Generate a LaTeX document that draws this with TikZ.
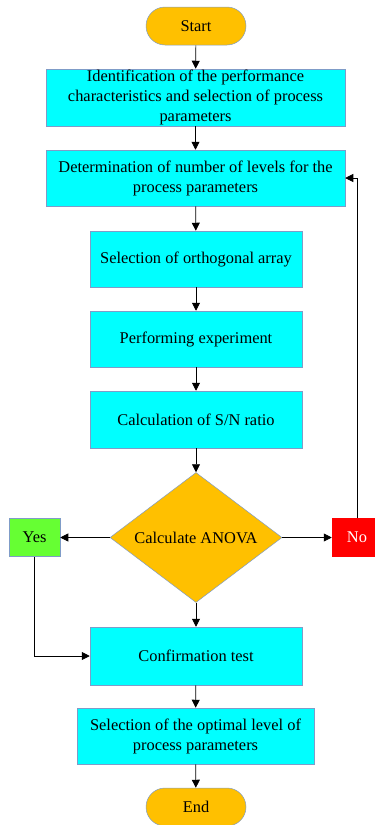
\documentclass[tikz,border=0pt]{standalone}
\usepackage{fontspec}
\setmainfont{Liberation Serif}
\usepackage{tikz}
\usetikzlibrary{arrows.meta,shapes.geometric}
\definecolor{boxcyan}{HTML}{00FFFF}
\definecolor{termorange}{HTML}{FFC000}
\definecolor{yesgreen}{HTML}{66FF33}
\definecolor{edgeblue}{HTML}{7F9CC8}
\tikzset{
  procbox/.style={draw=edgeblue,line width=0.5pt,fill=boxcyan,inner sep=0pt,align=center,minimum height=56pt},
  termbox/.style={draw=edgeblue,line width=0.5pt,fill=termorange,rounded corners=19pt,minimum width=100pt,minimum height=38pt},
  decbox/.style={draw=edgeblue,line width=0.5pt,fill=termorange,diamond,aspect=1.32,inner sep=0pt,minimum width=172pt,minimum height=130pt},
  ansbox/.style={draw=edgeblue,line width=0.5pt,minimum width=51pt,minimum height=38pt}
}
\begin{document}
\begin{tikzpicture}[x=1pt,y=-1pt,font=\fontsize{16.4}{20}\selectfont]
\useasboundingbox (0,0) rectangle (375,825);
\node[termbox] (S) at (196,26) {Start};
\node[procbox,minimum width=299pt,minimum height=57pt] (A1) at (195.5,97.5) {Identification of the performance\\characteristics and selection of process\\parameters};
\node[procbox,minimum width=299pt] (A2) at (195.5,178) {Determination of number of levels for the\\process parameters};
\node[procbox,minimum width=212pt] (A3) at (196,259) {Selection of orthogonal array};
\node[procbox,minimum width=212pt] (A4) at (196,339) {Performing experiment};
\node[procbox,minimum width=212pt,minimum height=57pt] (A5) at (196,419.5) {Calculation of S/N ratio};
\node[decbox] (D) at (196,537.5) {Calculate ANOVA};
\node[ansbox,fill=yesgreen] (Y) at (34.5,537.5) {Yes};
\node[ansbox,fill=red,draw=red,text=white,minimum width=50pt] (N) at (357,537.5) {No};
\node[procbox,minimum width=212pt,minimum height=58pt] (A6) at (196,656) {Confirmation test};
\node[procbox,minimum width=237pt] (A7) at (195.5,736) {Selection of the optimal level of\\process parameters};
\node[termbox] (E) at (196,807) {End};
\path[-{Triangle[length=8pt,width=8pt]},line width=0.7pt]
(S) edge (A1)
(A1) edge (A2)
(A2) edge (A3)
(A3) edge (A4)
(A4) edge (A5)
(A5) edge (D)
(D) edge (Y)
(D) edge (N)
(D) edge (A6)
(A6) edge (A7)
(A7) edge (E);
\draw[-{Triangle[length=8pt,width=8pt]},line width=0.7pt] (N.north) |- (A2.east);
\draw[-{Triangle[length=8pt,width=8pt]},line width=0.7pt] (Y.south) |- (A6.west);
\end{tikzpicture}
\end{document}
